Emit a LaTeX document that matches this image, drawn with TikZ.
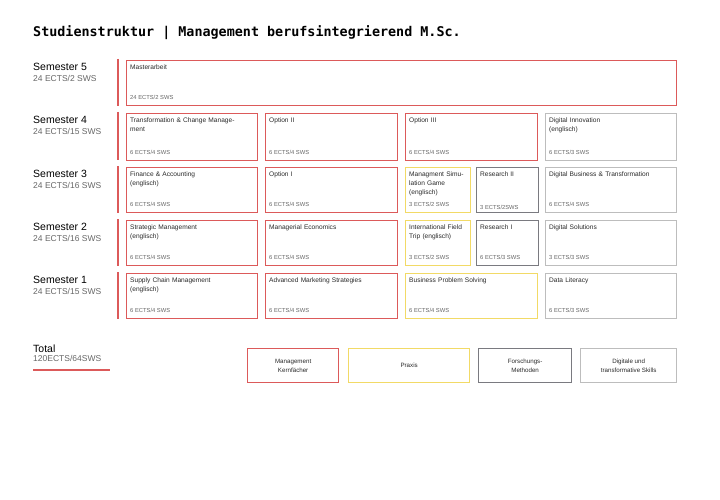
\documentclass[tikz,border=0pt]{standalone}
\usepackage{fontspec}
\setmainfont{Liberation Sans}
\newfontfamily\titlefont{DejaVu Sans Mono}
\definecolor{cred}{HTML}{DC5A5A}
\definecolor{cyel}{HTML}{F2DA66}
\definecolor{cdark}{HTML}{7A7A80}
\definecolor{clight}{HTML}{BDBDBD}
\definecolor{ctext}{HTML}{2A2A2A}
\definecolor{csub}{HTML}{666666}
\tikzset{
  modbox/.style={draw=#1, line width=1.3pt, inner sep=0pt, anchor=north west},
  ttl/.style={anchor=north west, inner sep=0pt, font=\fontsize{6.6}{8.6}\selectfont, text=ctext, align=left},
  ects/.style={anchor=base west, inner sep=0pt, font=\fontsize{5.8}{7}\selectfont, text=csub},
  semh/.style={anchor=base west, inner sep=0pt, font=\fontsize{10.5}{12}\selectfont, text=black},
  sems/.style={anchor=base west, inner sep=0pt, font=\fontsize{8.5}{10}\selectfont, text=csub},
  leg/.style={draw=#1, line width=1.3pt, anchor=north west, align=center, inner sep=0pt, font=\fontsize{6.2}{8.5}\selectfont, text=ctext},
}
\newcommand{\modbox}[8]{%
  \node[modbox=#2, minimum width=#5pt, minimum height=#6pt] (#1) at (#3,#4) {};
  \node[ttl, text width=#5pt-8pt] (#1t) at ([xshift=4pt,yshift=-5pt]#1.north west) {#7};
  \node[ects] (#1e) at ([xshift=4pt,yshift=7pt]#1.south west) {#8};
}
\begin{document}
\begin{tikzpicture}[x=1pt,y=-1pt]
\useasboundingbox[fill=white] (0,0) rectangle (720,500);
\node[anchor=base west, inner sep=0pt, font=\titlefont\bfseries\fontsize{13.4}{15}\selectfont] (title) at (33,37) {Studienstruktur | Management berufsintegrierend M.Sc.};
% semester labels
\node[semh] (s5) at (33,71) {Semester 5}; \node[sems] (s5s) at (33,82) {24 ECTS/2 SWS};
\node[semh] (s4) at (33,124) {Semester 4}; \node[sems] (s4s) at (33,135) {24 ECTS/15 SWS};
\node[semh] (s3) at (33,177) {Semester 3}; \node[sems] (s3s) at (33,188) {24 ECTS/16 SWS};
\node[semh] (s2) at (33,230) {Semester 2}; \node[sems] (s2s) at (33,241) {24 ECTS/16 SWS};
\node[semh] (s1) at (33,283) {Semester 1}; \node[sems] (s1s) at (33,294) {24 ECTS/15 SWS};
% red bars
\foreach \a/\b in {59/106,112/160,166/213,219/266,272/319}
  \draw[cred, line width=2.2pt] (118,\a) -- (118,\b);
% semester 5
\modbox{m5}{cred}{126}{60}{550}{45}{Masterarbeit}{24 ECTS/2 SWS}
% semester 4
\modbox{m41}{cred}{126}{113}{131}{47}{Transformation \& Change Manage-\\ment}{6 ECTS/4 SWS}
\modbox{m42}{cred}{265}{113}{132}{47}{Option II}{6 ECTS/4 SWS}
\modbox{m43}{cred}{405}{113}{132}{47}{Option III}{6 ECTS/4 SWS}
\modbox{m44}{clight}{545}{113}{131}{47}{Digital Innovation\\(englisch)}{6 ECTS/3 SWS}
% semester 3
\modbox{m31}{cred}{126}{167}{131}{45}{Finance \& Accounting\\(englisch)}{6 ECTS/4 SWS}
\modbox{m32}{cred}{265}{167}{132}{45}{Option I}{6 ECTS/4 SWS}
\modbox{m33}{cyel}{405}{167}{65}{45}{Managment Simu-\\lation Game\\(englisch)}{3 ECTS/2 SWS}
\node[modbox=cdark, minimum width=62pt, minimum height=45pt] (m34) at (476,167) {};
\node[ttl] (m34t) at ([xshift=4pt,yshift=-5pt]m34.north west) {Research II};
\node[ects] (m34e) at ([xshift=4pt,yshift=4pt]m34.south west) {3 ECTS/2SWS};
\modbox{m35}{clight}{545}{167}{131}{45}{Digital Business \& Transformation}{6 ECTS/4 SWS}
% semester 2
\modbox{m21}{cred}{126}{220}{131}{45}{Strategic Management\\(englisch)}{6 ECTS/4 SWS}
\modbox{m22}{cred}{265}{220}{132}{45}{Managerial Economics}{6 ECTS/4 SWS}
\modbox{m23}{cyel}{405}{220}{65}{45}{International Field\\Trip (englisch)}{3 ECTS/2 SWS}
\modbox{m24}{cdark}{476}{220}{62}{45}{Research I}{6 ECTS/3 SWS}
\modbox{m25}{clight}{545}{220}{131}{45}{Digital Solutions}{3 ECTS/3 SWS}
% semester 1
\modbox{m11}{cred}{126}{273}{131}{45}{Supply Chain Management\\(englisch)}{6 ECTS/4 SWS}
\modbox{m12}{cred}{265}{273}{132}{45}{Advanced Marketing Strategies}{6 ECTS/4 SWS}
\modbox{m13}{cyel}{405}{273}{132}{45}{Business Problem Solving}{6 ECTS/4 SWS}
\modbox{m14}{clight}{545}{273}{131}{45}{Data Literacy}{6 ECTS/3 SWS}
% total
\node[semh] (tot) at (33,352) {Total};
\node[sems] (tots) at (33,361) {120ECTS/64SWS};
\coordinate (la) at (33,370); \coordinate (lb) at (110,370);
\draw[cred, line width=1.2pt] (la) -- (lb);
% legend
\node[leg=cred, minimum width=91pt, minimum height=34pt] (l1) at (247,348) {Management\\Kernfächer};
\node[leg=cyel, minimum width=121pt, minimum height=34pt] (l2) at (348,348) {Praxis};
\node[leg=cdark, minimum width=93pt, minimum height=34pt] (l3) at (478,348) {Forschungs-\\Methoden};
\node[leg=clight, minimum width=96pt, minimum height=34pt] (l4) at (580,348) {Digitale und\\transformative Skills};
\end{tikzpicture}
\end{document}
